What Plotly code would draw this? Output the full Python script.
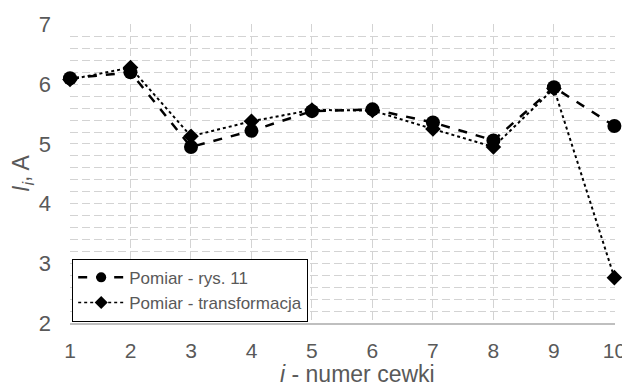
import plotly.graph_objects as go

coils = [1, 2, 3, 4, 5, 6, 7, 8, 9, 10]
pomiar_rys11 = [6.10, 6.20, 4.95, 5.22, 5.55, 5.58, 5.36, 5.06, 5.95, 5.30]
pomiar_transf = [6.08, 6.28, 5.13, 5.38, 5.57, 5.56, 5.25, 4.95, 5.93, 2.76]
x_ticks = [1, 2, 3, 4, 5, 6, 7, 8, 9, 10]
y_ticks = [2, 3, 4, 5, 6, 7]
names = ["Pomiar - rys. 11", "Pomiar - transformacja"]
x_title = "<i>i</i> - numer cewki"
y_title = "<i>I</i><sub><i>i</i></sub>, A"

FONT = "Liberation Sans, Arial, sans-serif"
GRAY = "#595959"
GRID = "#d3d3d3"

line1 = dict(color="black", width=2.5, dash="dash")
line2 = dict(color="black", width=2, dash="dot")

fig = go.Figure()
fig.add_trace(go.Scatter(
    x=coils, y=pomiar_rys11, name=names[0], showlegend=False,
    mode="lines+markers", cliponaxis=False, line=line1,
    marker=dict(symbol="circle", size=14, color="black"),
))
fig.add_trace(go.Scatter(
    x=coils, y=pomiar_transf, name=names[1], showlegend=False,
    mode="lines+markers", cliponaxis=False, line=line2,
    marker=dict(symbol="diamond", size=12, color="black"),
))
# legend entries (smaller symbols, as in the reference legend)
fig.add_trace(go.Scatter(
    x=[None], y=[None], name=names[0], mode="lines+markers", line=line1,
    marker=dict(symbol="circle", size=10, color="black"),
))
fig.add_trace(go.Scatter(
    x=[None], y=[None], name=names[1], mode="lines+markers",
    line=dict(color="black", width=1.5, dash="dot"),
    marker=dict(symbol="diamond", size=10, color="black"),
))

fig.update_layout(
    width=622, height=375,
    margin=dict(l=62, r=15, t=16, b=60, autoexpand=False),
    paper_bgcolor="white", plot_bgcolor="white",
    font=dict(family=FONT, color=GRAY, size=21),
    showlegend=True,
    legend=dict(
        x=0.004, y=0.004, xanchor="left", yanchor="bottom",
        bgcolor="white", bordercolor="black", borderwidth=1,
        font=dict(size=17, color=GRAY, family=FONT),
        tracegroupgap=0, itemwidth=46,
    ),
    xaxis=dict(
        range=[1, 10.01], tickvals=x_ticks, ticktext=[str(v) for v in x_ticks],
        showgrid=True, gridcolor=GRID, griddash="8px,4px", gridwidth=1,
        showline=True, linecolor="#bfbfbf", linewidth=1.5,
        zeroline=False, ticks="", ticklabelstandoff=8, automargin=False,
        tickfont=dict(size=21, color=GRAY),
    ),
    yaxis=dict(
        range=[2, 7.01], tickvals=y_ticks, ticktext=[str(v) for v in y_ticks],
        showgrid=True, gridcolor=GRID, griddash="8px,4px", gridwidth=1,
        minor=dict(dtick=0.2, showgrid=True, gridcolor=GRID, griddash="8px,4px", gridwidth=1),
        showline=False, zeroline=False, ticks="", ticklabelstandoff=18, automargin=False,
        tickfont=dict(size=22, color=GRAY),
        title=dict(text=y_title, font=dict(size=23, color=GRAY), standoff=3),
    ),
    annotations=[dict(
        text=x_title, xref="paper", yref="paper", x=0.5, y=0,
        xanchor="center", yanchor="top", xshift=15, yshift=-36, showarrow=False,
        font=dict(size=23, color=GRAY, family=FONT),
    )],
)

fig.write_html("out.html")
